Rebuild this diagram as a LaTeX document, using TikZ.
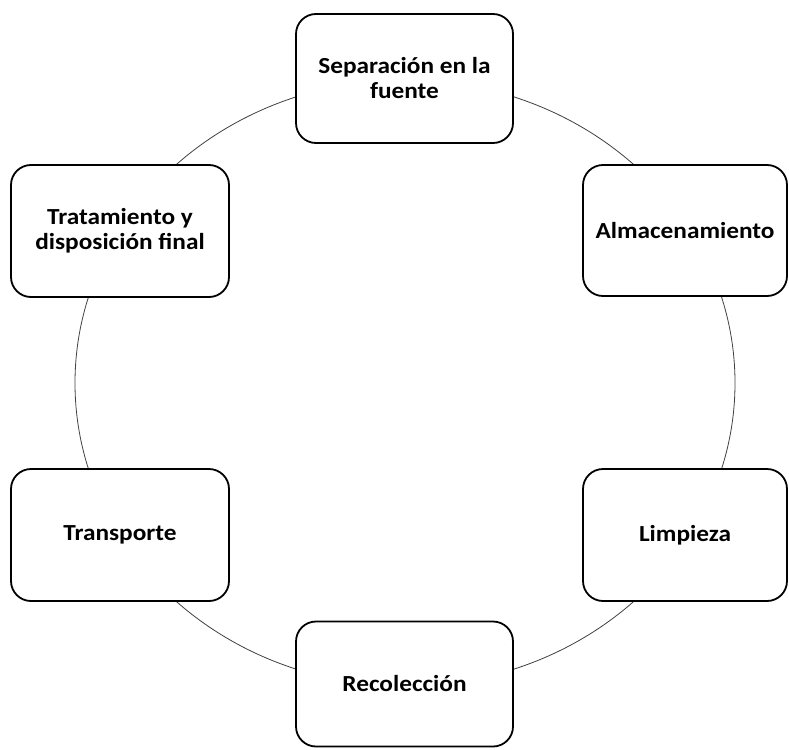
\documentclass[tikz,border=0pt]{standalone}
\usepackage{fontspec}
\setmainfont{Carlito}[FakeStretch=1.1]
\begin{document}
\begin{tikzpicture}[x=1pt, y=-1pt,
		etapa/.style={draw, line width=1.8pt, rounded corners=20pt, fill=white,
			align=center, inner sep=0pt,
			font=\fontsize{23}{25}\selectfont\bfseries},
		lado/.style={minimum width=218pt, minimum height=132pt},
		]
	\useasboundingbox (0,0) rectangle (789,749);
	\coordinate (ctr) at (405,383);
	\draw [line width=0.8pt, black!75] (ctr) ellipse [x radius=330, y radius=303];
	\node [etapa, minimum width=217pt, minimum height=129pt] (sep) at (404.5,78.5) {Separación en la\\fuente};
	\node [etapa, minimum width=204pt, minimum height=131pt] (alm) at (685,230.5) {Almacenamiento};
	\node [etapa, minimum width=204pt, minimum height=132pt] (lim) at (685,535) {Limpieza};
	\node [etapa, minimum width=217pt, minimum height=125pt] (rec) at (404.5,684) {Recolección};
	\node [etapa, lado] (tra) at (120,535) {Transporte};
	\node [etapa, lado] (fin) at (120,231) {Tratamiento y\\disposición final};
\end{tikzpicture}
\end{document}
